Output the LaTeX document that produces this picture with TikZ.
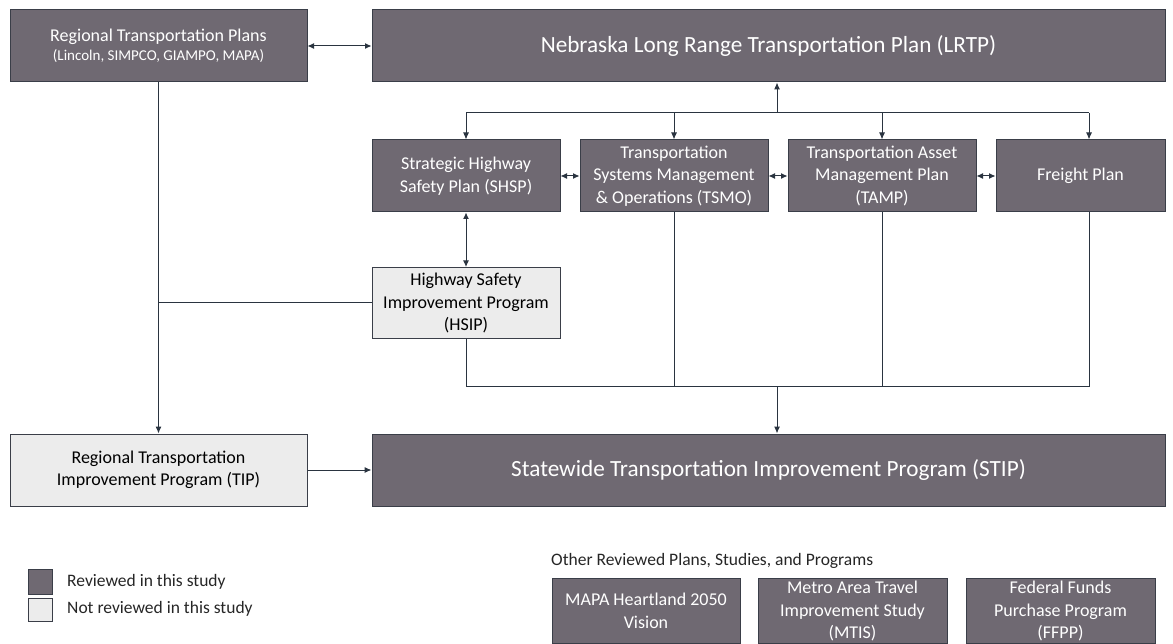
\documentclass[tikz,border=0pt]{standalone}
\usepackage{fontspec}
\setmainfont{Carlito}
\usetikzlibrary{arrows.meta,positioning}
\definecolor{DarkBox}{RGB}{111,105,114}
\definecolor{LightBox}{RGB}{236,236,236}
\definecolor{BoxEdge}{RGB}{58,62,72}
\definecolor{LinkGray}{RGB}{42,52,64}

\begin{document}
\begin{tikzpicture}[x=1pt,y=-1pt]
          \useasboundingbox (0,0) rectangle (1173,644);
          \tikzstyle{reviewed}=[draw=BoxEdge, fill=DarkBox, text=white, line width=1pt,
            align=center, inner sep=0pt, font=\fontsize{18}{22.5}\selectfont]
          \tikzstyle{notreviewed}=[reviewed, fill=LightBox, text=black]
          \tikzstyle{bigplan}=[reviewed, font=\fontsize{23.2}{27}\selectfont]
          \tikzstyle{keytext}=[anchor=west, inner sep=0pt, text=black!85, font=\fontsize{17.5}{21}\selectfont]
          \tikzstyle{link}=[draw=LinkGray, line width=1pt]
          \tikzstyle{onearrow}=[-{Latex[length=7pt,width=6pt]}]
          \tikzstyle{twoarrow}=[{Latex[length=6.5pt,width=6pt]}-{Latex[length=6.5pt,width=6pt]}]
          % top row
          \node[reviewed, minimum width=297, minimum height=72] (rtp) at (158.5,46)
            {Regional Transportation Plans\\[-3pt]{\fontsize{15}{17}\selectfont (Lincoln, SIMPCO, GIAMPO, MAPA)}};
          \node[bigplan, minimum width=793, minimum height=72] (lrtp) at (768.5,46)
            {Nebraska Long Range Transportation Plan (LRTP)};
          % plans under the LRTP
          \node[reviewed, minimum width=188, minimum height=72] (shsp) at (466,176)
            {Strategic Highway\\Safety Plan (SHSP)};
          \node[reviewed, minimum width=188, minimum height=72] (tsmo) at (674,176)
            {Transportation\\Systems Management\\\& Operations (TSMO)};
          \node[reviewed, minimum width=188, minimum height=72] (tamp) at (882,176)
            {Transportation Asset\\Management Plan\\(TAMP)};
          \node[reviewed, minimum width=169, minimum height=72] (freight) at (1080.5,176)
            {Freight Plan};
          \node[notreviewed, minimum width=188, minimum height=71] (hsip) at (466,303)
            {Highway Safety\\Improvement Program\\(HSIP)};
          % programs
          \node[notreviewed, minimum width=297, minimum height=72] (tip) at (158.5,470)
            {Regional Transportation\\Improvement Program (TIP)};
          \node[bigplan, minimum width=793, minimum height=72] (stip) at (768.5,470)
            {Statewide Transportation Improvement Program (STIP)};
          % legend
          \node[reviewed, minimum width=24, minimum height=25] (keyrev) at (40,581.5) {};
          \node[notreviewed, minimum width=24, minimum height=23] (keynot) at (40,610) {};
          \node[keytext] (keyrevtext) at (67,581.5) {Reviewed in this study};
          \node[keytext] (keynottext) at (67,609) {Not reviewed in this study};
          % other reviewed plans
          \node[keytext] (othertitle) at (551,561) {Other Reviewed Plans, Studies, and Programs};
          \node[reviewed, minimum width=188, minimum height=65] (mapa) at (646,611)
            {MAPA Heartland 2050\\Vision};
          \node[reviewed, minimum width=189, minimum height=65] (mtis) at (852.5,611)
            {Metro Area Travel\\Improvement Study\\(MTIS)};
          \node[reviewed, minimum width=189, minimum height=65] (ffpp) at (1060.5,611)
            {Federal Funds\\Purchase Program\\(FFPP)};
          % links to the LRTP
          \coordinate (hub) at (777,113);
          \coordinate (frin) at ([xshift=8.5pt]freight.north);
          \draw[link,twoarrow] (rtp) -- (lrtp);
          \draw[link,onearrow] (hub) -- (hub |- lrtp.south);
          \draw[link] (shsp.north |- hub) -- (frin |- hub);
          \foreach \p in {shsp,tsmo,tamp}
            \draw[link,onearrow] (\p.north |- hub) -- (\p.north);
          \draw[link,onearrow] (frin |- hub) -- (frin);
          % links between the plans
          \draw[link,twoarrow] (shsp) -- (tsmo);
          \draw[link,twoarrow] (tsmo) -- (tamp);
          \draw[link,twoarrow] (tamp) -- (freight);
          \draw[link,twoarrow] (shsp) -- (hsip);
          % links to the programs
          \coordinate (merge) at (777,386);
          \coordinate (frout) at ([xshift=8.5pt]freight.south);
          \draw[link] (hsip.west) -- (hsip.west -| rtp.south);
          \draw[link,onearrow] (rtp) -- (tip);
          \draw[link] (hsip.south) |- (frout |- merge) -- (frout);
          \foreach \p in {tsmo,tamp}
            \draw[link] (\p.south) -- (\p.south |- merge);
          \draw[link,onearrow] (merge) -- (merge |- stip.north);
          \draw[link,onearrow] (tip) -- (stip);
        \end{tikzpicture}
\end{document}
